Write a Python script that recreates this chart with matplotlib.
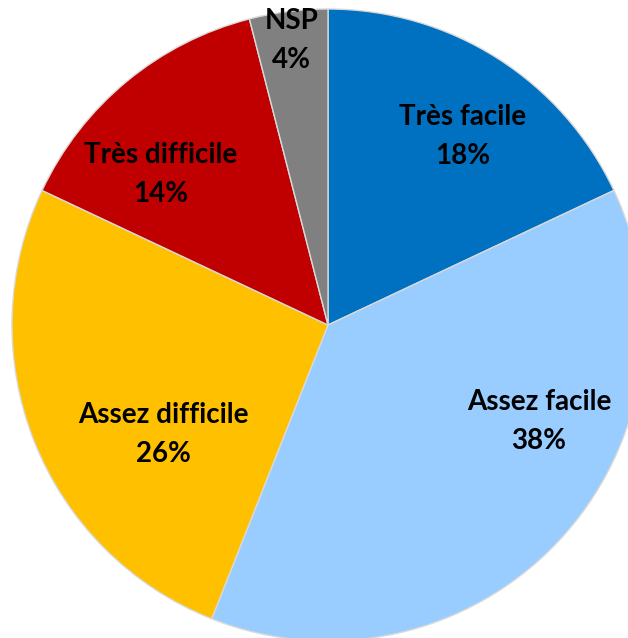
import numpy as np
from matplotlib import pyplot as plt

#### Données
categories = ['Très facile', 'Assez facile', 'Assez difficile', 'Très difficile', 'NSP']
valeurs = [18, 38, 26, 14, 4]
couleurs = ['#0070C0', '#99CCFF', '#FFC000', '#C00000', '#808080']

# position des étiquettes (en unités du rayon)
pos_labels = [(0.425, 0.595), (0.668, -0.305), (-0.52, -0.346), (-0.53, 0.475), (-0.115, 0.90)]

fig = plt.figure(figsize=(6.28, 6.38), dpi=100)
ax = fig.add_axes([0, 0, 1, 1])

R = 316.0
ax.pie(valeurs, colors=couleurs, startangle=90, counterclock=False,
       radius=1.0, wedgeprops=dict(edgecolor='#D9D9D9', linewidth=1.0))

for cat, v, (x, y) in zip(categories, valeurs, pos_labels):
    ax.text(x, y, f'{cat}\n{v}%', ha='center', va='center',
            fontsize=20, fontweight='bold', family=['Lato', 'DejaVu Sans'],
            linespacing=1.62, color='black')

ax.set_xlim(-328 / R, 300 / R)
ax.set_ylim(-313 / R, 325 / R)
ax.set_aspect('equal')
ax.axis('off')

plt.savefig('out.png', dpi=100)
